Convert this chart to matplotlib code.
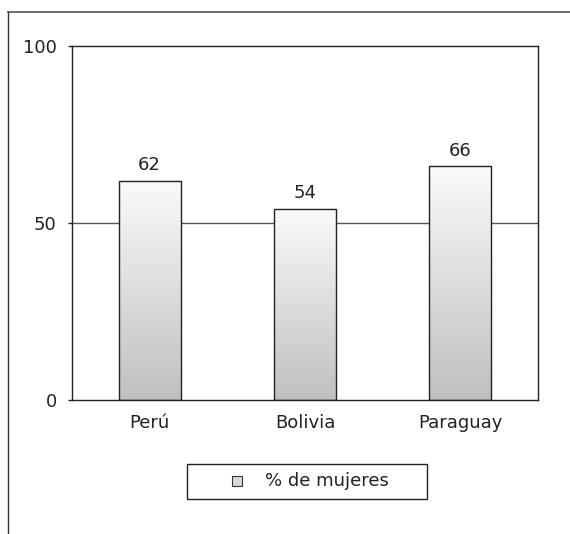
import numpy as np
import matplotlib
matplotlib.use("Agg")
import matplotlib.pyplot as plt
from matplotlib.patches import Rectangle
from matplotlib.lines import Line2D

countries = ["Perú", "Bolivia", "Paraguay"]
pct_women = [62, 54, 66]
y_ticks = [0, 50, 100]
series_label = "% de mujeres"

plt.rcParams["font.family"] = ["DejaVu Sans"]

fig = plt.figure(figsize=(5.70, 5.34), dpi=100)
ax = fig.add_axes([0.1263, 0.2509, 0.8176, 0.6630])

x = np.arange(len(countries))
bars = ax.bar(x, pct_women, width=0.4, color="none", edgecolor="#222222",
              linewidth=1.0, zorder=3)

# vertical gradient fill inside each bar
grad = np.linspace(0, 1, 256).reshape(-1, 1)
cmap = matplotlib.colors.LinearSegmentedColormap.from_list("bar", ["#bfc0c2", "#fafafa"])
for b in bars:
    ax.imshow(grad, extent=(b.get_x(), b.get_x() + b.get_width(), 0, b.get_height()),
              origin="lower", cmap=cmap, aspect="auto", zorder=2)

for xi, v in zip(x, pct_women):
    ax.text(xi, v + 1.8, str(v), ha="center", va="bottom", fontsize=13, color="#222222")

ax.set_xlim(-0.5, len(countries) - 0.5)
ax.set_ylim(0, 100)
ax.set_yticks(y_ticks)
ax.set_yticklabels([str(t) for t in y_ticks], fontsize=13, color="#222222")
ax.set_xticks(x)
ax.set_xticklabels(countries, fontsize=13, color="#222222")
ax.tick_params(axis="x", length=0, pad=10)
ax.tick_params(axis="y", length=3, width=1, pad=8, color="#222222")
ax.axhline(50, color="#555555", linewidth=1.0, zorder=1)
for s in ax.spines.values():
    s.set_color("#222222")
    s.set_linewidth(1.0)

# legend box drawn by hand so its padding can be set freely
fig.add_artist(Rectangle((0.328, 0.0655), 0.421, 0.0655, transform=fig.transFigure,
                         facecolor="white", edgecolor="#222222", linewidth=1.0))
fig.add_artist(Rectangle((0.407, 0.0899), 0.0175, 0.0187, transform=fig.transFigure,
                         facecolor="#d9d9d9", edgecolor="#333333", linewidth=0.8))
fig.text(0.465, 0.0985, series_label, ha="left", va="center", fontsize=13, color="#222222")

# partial outer frame
fig.add_artist(Line2D([0.014, 1.0], [0.9775, 0.9775], transform=fig.transFigure,
                      color="#555555", linewidth=1.2))
fig.add_artist(Line2D([0.014, 0.014], [0.9775, 0.0], transform=fig.transFigure,
                      color="#333333", linewidth=1.0))

fig.savefig("out.png", dpi=100)
